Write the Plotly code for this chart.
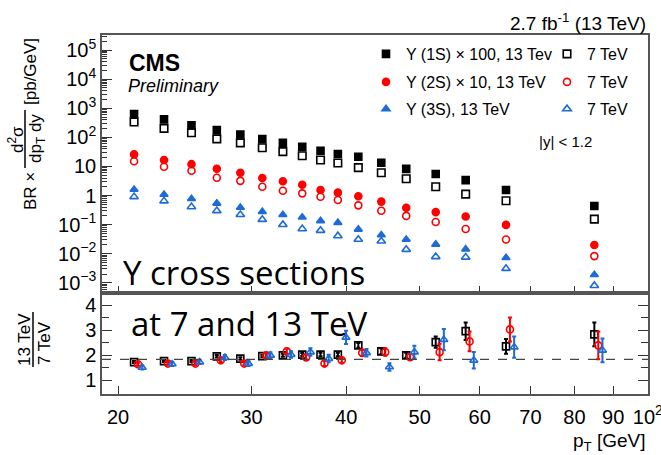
import math
import plotly.graph_objects as go

# Bin centres in p_T [GeV]
pt = [21, 23, 25, 27, 29, 31, 33, 35, 37, 39, 41.5, 44.5, 48, 52.5, 57.5, 65, 85]

# BR x d2sigma/dpT dy [pb/GeV]  (1S scaled x100, 2S scaled x10)
ups1s_13 = [631, 417, 259, 178, 126, 87, 65, 47, 34.7, 27, 21.5, 13.4, 8.3, 5.5, 3.4, 1.55, 0.44]
ups1s_7 = [338, 204, 145, 89, 65, 44, 32.5, 23.5, 16.6, 13.2, 9.1, 6.1, 3.8, 2.0, 1.12, 0.66, 0.155]
ups2s_13 = [26, 16.6, 12, 8.3, 6.1, 4.0, 3.1, 2.35, 1.55, 1.26, 0.95, 0.62, 0.38, 0.27, 0.19, 0.098, 0.020]
ups2s_7 = [15.2, 9.8, 7.1, 4.1, 3.2, 2.0, 1.46, 1.19, 0.91, 0.70, 0.46, 0.30, 0.20, 0.123, 0.071, 0.031, 0.0083]
ups3s_13 = [1.62, 1.09, 0.78, 0.54, 0.39, 0.28, 0.22, 0.18, 0.135, 0.117, 0.069, 0.044, 0.031, 0.021, 0.0144, 0.0073, 0.0019]
ups3s_7 = [0.91, 0.65, 0.41, 0.30, 0.22, 0.15, 0.10, 0.072, 0.063, 0.041, 0.031, 0.027, 0.014, 0.0079, 0.0076, 0.0031, 0.0008]

# 13 TeV / 7 TeV ratios and their uncertainties
ratio_1s = [1.73, 1.77, 1.77, 1.96, 1.87, 1.97, 2.0, 2.03, 2.03, 2.03, 2.40, 2.16, 2.0, 2.53, 2.97, 2.36, 2.84]
ratio_1s_err = [0.04, 0.04, 0.04, 0.05, 0.05, 0.05, 0.06, 0.06, 0.07, 0.07, 0.10, 0.12, 0.10, 0.23, 0.35, 0.30, 0.48]
ratio_2s = [1.64, 1.67, 1.67, 1.80, 1.67, 2.0, 2.16, 1.92, 1.67, 1.80, 2.10, 2.13, 1.93, 2.13, 2.56, 3.04, 2.40]
ratio_2s_err = [0.06, 0.06, 0.06, 0.07, 0.07, 0.08, 0.10, 0.10, 0.10, 0.10, 0.12, 0.15, 0.12, 0.33, 0.40, 0.48, 0.56]
ratio_3s = [1.51, 1.65, 1.73, 1.91, 1.67, 2.0, 2.03, 2.13, 1.87, 2.72, 2.10, 1.53, 2.13, 2.63, 1.80, 2.33, 2.20]
ratio_3s_err = [0.08, 0.08, 0.08, 0.10, 0.10, 0.12, 0.13, 0.15, 0.15, 0.27, 0.15, 0.15, 0.25, 0.43, 0.33, 0.43, 0.48]
ratio_ref = 1.84

x_tickvals = [20, 30, 40, 50, 60, 70, 80, 90, 100]
x_ticktext = ["20", "30", "40", "50", "60", "70", "80", "90", "10<sup>2</sup>"]
y_tickvals = [1e-3, 1e-2, 1e-1, 1, 10, 1e2, 1e3, 1e4, 1e5]
y_ticktext = ["10<sup>\u22123</sup>", "10<sup>\u22122</sup>", "10<sup>\u22121</sup>", "1", "10",
              "10<sup>2</sup>", "10<sup>3</sup>", "10<sup>4</sup>", "10<sup>5</sup>"]
y_minor = [k * 10.0 ** n for n in range(-4, 6) for k in range(2, 10)]

BLACK, RED, BLUE = "#000000", "#ff0000", "#1f6bd6"
FONT = "Liberation Sans, Arial, sans-serif"

W, H = 661, 455
ML, MR, MT, MB = 102, 13, 35, 61
PW, PH = W - ML - MR, H - MT - MB


def px(x):
    return (x - ML) / PW


def py(y):
    return (H - MB - y) / PH


split = py(293)

fig = go.Figure()

series = [
    (ups1s_13, "\u03a5 (1S) \u00d7 100, 13 Tev", "square", BLACK, 7, "legend"),
    (ups1s_7, "7 TeV", "square-open", BLACK, 7.5, "legend"),
    (ups2s_13, "\u03a5 (2S) \u00d7 10, 13 TeV", "circle", RED, 7, "legend2"),
    (ups2s_7, "7 TeV", "circle-open", RED, 7, "legend2"),
    (ups3s_13, "\u03a5 (3S), 13 TeV", "triangle-up", BLUE, 7, "legend3"),
    (ups3s_7, "7 TeV", "triangle-up-open", BLUE, 7.5, "legend3"),
]
for vals, name, sym, col, size, leg in series:
    fig.add_trace(go.Scatter(
        x=pt, y=vals, mode="markers", name=name, legend=leg,
        marker=dict(symbol=sym, color=col, size=size, line=dict(color=col, width=1.6)),
        xaxis="x", yaxis="y"))

ratios = [
    (ratio_1s, ratio_1s_err, "square-open", BLACK, 1.0),
    (ratio_2s, ratio_2s_err, "circle-open", RED, 1.012),
    (ratio_3s, ratio_3s_err, "triangle-up-open", BLUE, 1.025),
]
for vals, errs, sym, col, shift in ratios:
    fig.add_trace(go.Scatter(
        x=[p * shift for p in pt], y=vals, mode="markers", showlegend=False,
        marker=dict(symbol=sym, color=col, size=7, line=dict(color=col, width=1.6)),
        error_y=dict(type="data", array=errs, color=col, thickness=2, width=2),
        xaxis="x2", yaxis="y2"))

axis_line = dict(showline=True, linecolor="#555555", linewidth=1.5, showgrid=False,
                 zeroline=False, ticks="inside", tickcolor="#333333")
x_range = [math.log10(19.05), math.log10(100.05)]

leg_common = dict(orientation="h", bgcolor="rgba(0,0,0,0)", borderwidth=0,
                  font=dict(size=16, family=FONT), entrywidth=136, entrywidthmode="pixels",
                  xanchor="left", yanchor="middle", x=px(366), itemclick=False,
                  itemdoubleclick=False)

fig.update_layout(
    width=W, height=H, margin=dict(l=ML, r=MR, t=MT, b=MB, autoexpand=False),
    paper_bgcolor="white", plot_bgcolor="white",
    font=dict(family=FONT, size=19, color="black"),
    showlegend=True,
    legend=dict(**leg_common, y=py(54)),
    legend2=dict(**leg_common, y=py(82)),
    legend3=dict(**leg_common, y=py(109)),
    xaxis=dict(**axis_line, type="log", range=x_range, domain=[0, 1], anchor="y",
               tickmode="array", tickvals=x_tickvals, showticklabels=False, ticklen=7,
               mirror=True, matches="x2"),
    yaxis=dict(**axis_line, type="log", range=[-3.35, 5.52], domain=[split, 1], anchor="x",
               tickmode="array", tickvals=y_tickvals, ticktext=y_ticktext, ticklen=10,
               mirror=True, tickfont=dict(size=20),
               minor=dict(tickmode="array", tickvals=y_minor, ticks="inside", ticklen=5,
                          tickcolor="#333333", showgrid=False)),
    xaxis2=dict(**axis_line, type="log", range=x_range, domain=[0, 1], anchor="y2",
                tickmode="array", tickvals=x_tickvals, ticktext=x_ticktext, ticklen=8,
                mirror=True, tickfont=dict(size=20), ticklabelstandoff=4, tickangle=0,
                ticklabeloverflow="allow"),
    yaxis2=dict(**axis_line, range=[0.45, 4.5], domain=[0, split], anchor="x2",
                tickmode="array", tickvals=[1, 2, 3, 4], ticklen=10, mirror="ticks",
                tickfont=dict(size=20),
                minor=dict(tickmode="array", tickvals=[1.5, 2.5, 3.5], ticks="inside",
                           ticklen=7, tickcolor="#333333", showgrid=False)),
)

# dashed reference line in the ratio panel
fig.add_shape(type="line", xref="x2 domain", x0=0, x1=1, yref="y2", y0=ratio_ref, y1=ratio_ref,
              line=dict(color="#444444", width=1.2, dash="dash"))


def text(x, y, s, size, xanchor="center", yanchor="middle", angle=0, family=FONT, color="black"):
    fig.add_annotation(x=px(x), y=py(y), xref="paper", yref="paper", text=s, showarrow=False,
                       xanchor=xanchor, yanchor=yanchor, textangle=angle,
                       font=dict(size=size, family=family, color=color))


def hbar(x, y0, y1):
    fig.add_shape(type="line", xref="paper", yref="paper", x0=px(x), x1=px(x), y0=py(y0), y1=py(y1),
                  line=dict(color="black", width=1.5))


text(127, 63, "<b>CMS</b>", 23, xanchor="left")
text(126, 86, "<i>Preliminary</i>", 18, xanchor="left")
text(648, 22, "2.7 fb<sup>-1</sup> (13 TeV)", 19, xanchor="right")
text(565, 141, "|y| < 1.2", 15)
text(648, 442, "p<sub>T</sub> [GeV]", 19, xanchor="right")

# y-axis title of the cross-section panel
text(30, 72, "[pb/GeV]", 17, angle=-90)
text(16, 140, "d<sup>2</sup>\u03c3", 17, angle=-90)
hbar(25, 110, 168)
text(37, 139, "dp<sub>T</sub> dy", 17, angle=-90)
text(30, 191, "BR \u00d7", 17, angle=-90)

# y-axis title of the ratio panel
text(24, 340, "13 TeV", 17, angle=-90)
hbar(33, 312, 367)
text(44, 343, "7 TeV", 17, angle=-90)

# overlaid caption
text(121, 272, "Y cross sections", 33, xanchor="left", family="Open Sans")
text(129, 323, "at 7 and 13 TeV", 33, xanchor="left", family="Open Sans")

fig.write_html("out.html")
